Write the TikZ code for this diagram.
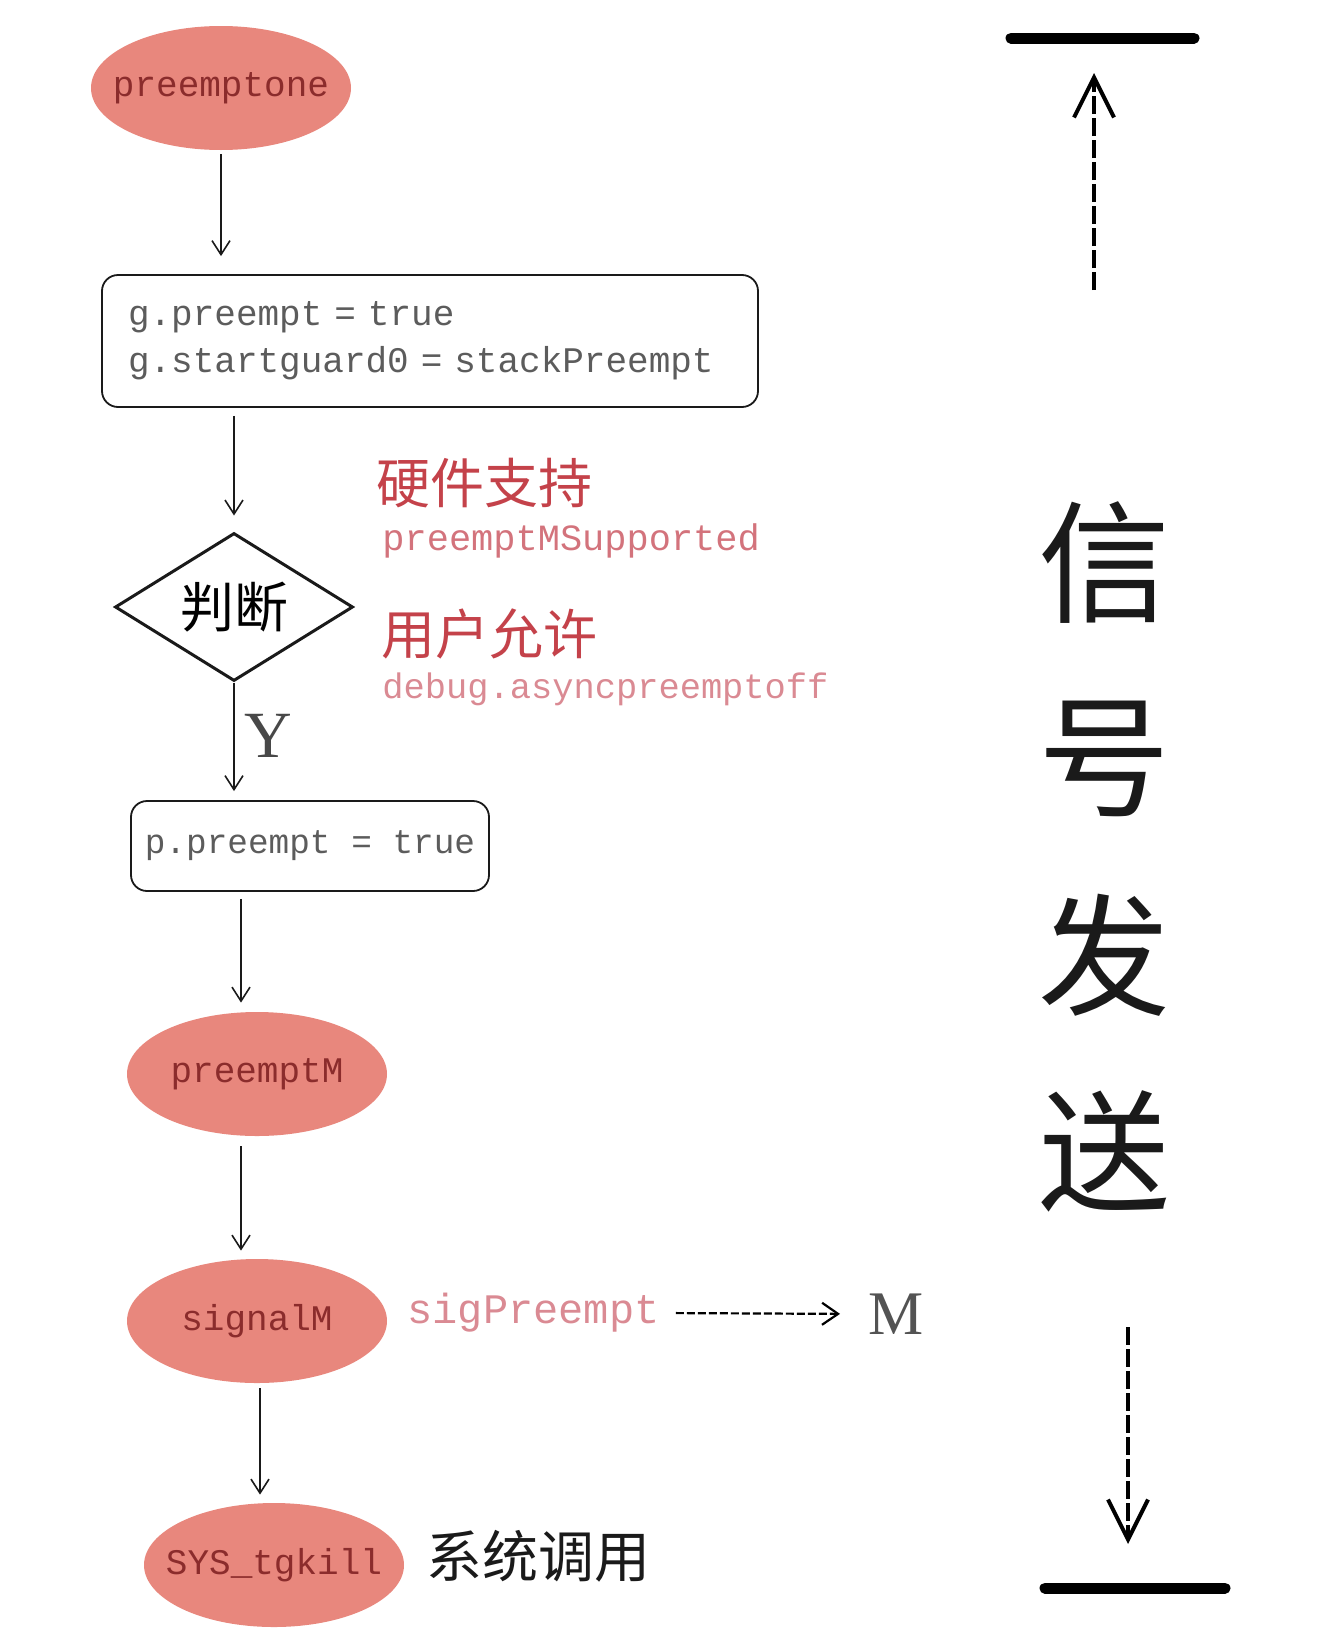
\documentclass[tikz,border=0pt]{standalone}
\usepackage{fontspec}
\setmainfont{Liberation Serif}
\setmonofont{Liberation Mono}
\newfontfamily\cjk{Noto Sans CJK SC}
\usetikzlibrary{shapes.geometric,arrows.meta}
\definecolor{SGSalmon} {HTML}{E8877D}
\definecolor{SGDarkRed}{HTML}{8B2C2C}
\definecolor{SGRed}    {HTML}{C4424A}
\definecolor{SGPink}   {HTML}{D3737C}
\definecolor{SGRose}   {HTML}{DA8A93}
\definecolor{SGGray}   {HTML}{5C5C5C}
\definecolor{SGInk}    {HTML}{1A1A1A}

\tikzset{
  funcnode/.style={ellipse,fill=SGSalmon,minimum width=130pt,minimum height=62pt,
    inner xsep=-20pt,inner ysep=0pt,text=SGDarkRed,font=\ttfamily\fontsize{18}{20}\selectfont},
  stmtbox/.style={draw=SGInk,line width=0.9pt,rounded corners=8pt,text=SGGray},
  decide/.style={diamond,draw=SGInk,line width=1.5pt,aspect=1.6,minimum width=119pt,
    minimum height=74pt,inner sep=0pt,font=\cjk\fontsize{27}{30}\selectfont},
  flow/.style={draw=SGInk,line width=0.8pt,-{Straight Barb[length=7pt,width=9pt]}},
  note/.style={anchor=west,inner sep=0pt},
  bar/.style={line width=5.5pt,line cap=round},
  sendarrow/.style={line width=2pt,dash pattern=on 9pt off 2pt,
    -{Straight Barb[length=20pt,width=20pt,line width=2pt]}},
}

\begin{document}
\begin{tikzpicture}[x=0.5pt,y=-0.5pt]
    \useasboundingbox (0,0) rectangle (1338,1638);

    % flow nodes
    \node[funcnode] (pone) at (221,88) {preemptone};
    \node[stmtbox,minimum width=328pt,minimum height=66pt,text width=302pt,align=left,
      font=\ttfamily\fontsize{18}{23.5}\selectfont] (gset) at (430,341)
      {g.preempt = true\\g.startguard0 = stackPreempt};
    \node[decide] (judge) at (234,607) {判断};
    \node[stmtbox,minimum width=179pt,minimum height=45pt,
      font=\ttfamily\fontsize{17.2}{20}\selectfont] (pset) at (310,846) {p.preempt = true};
    \node[funcnode] (pm) at (257,1074) {preemptM};
    \node[funcnode] (sigm) at (257,1321) {signalM};
    \node[funcnode] (tgk) at (274,1565) {SYS\_tgkill};

    % arrows
    \draw[flow,shorten >=9pt,shorten <=2pt] (pone.south) -- (pone.south |- gset.north);
    \draw[flow,shorten >=8pt,shorten <=4pt] (judge.north |- gset.south) -- (judge.north);
    \draw[flow,shorten >=4.5pt] (judge.south) -- (judge.south |- pset.north);
    \draw[flow,shorten >=4.5pt,shorten <=3.5pt] ([xshift=-8pt]pm.north |- pset.south) -- ([xshift=-8pt]pm.north);
    \draw[flow,shorten >=4pt,shorten <=5pt] ([xshift=-8pt]sigm.north |- pm.south) -- ([xshift=-8pt]sigm.north);
    \draw[flow,shorten >=4pt,shorten <=2.5pt] ([xshift=-7pt]tgk.north |- sigm.south) -- ([xshift=-7pt]tgk.north);

    % labels
    \node[note,font=\fontsize{33}{33}\selectfont,text=SGInk!80] (yes) at (244,736) {Y};
    \node[note,font=\cjk\fontsize{27}{30}\selectfont,text=SGRed] (hw) at (376,483) {硬件支持};
    \node[note,font=\ttfamily\fontsize{18.5}{20}\selectfont,text=SGPink] (hwname) at (382,541) {preemptMSupported};
    \node[note,font=\cjk\fontsize{27}{30}\selectfont,text=SGRed] (user) at (381,634) {用户允许};
    \node[note,font=\ttfamily\fontsize{17.7}{20}\selectfont,text=SGRose] (username) at (382,689) {debug.asyncpreemptoff};
    \node[note,font=\ttfamily\fontsize{21}{24}\selectfont,text=SGRose] (sigp) at (407,1313) {sigPreempt};
    \node[note,font=\fontsize{31}{31}\selectfont,text=SGInk!75] (mach) at (868,1314) {M};
    \node[note,font=\cjk\fontsize{28}{30}\selectfont,text=SGInk] (sys) at (426,1556) {系统调用};

    \draw[line width=1.1pt,dash pattern=on 4pt off 1.5pt,-{Straight Barb[length=8pt,width=11pt]},
      shorten <=8pt,shorten >=14pt] (sigp.east) -- (mach.west);

    % signal sending
    \coordinate (topL) at (1011,38);
    \coordinate (topR) at (1194,38);
    \coordinate (upS) at (1094,290);
    \coordinate (upE) at (1094,73);
    \coordinate (downS) at (1128,1327);
    \coordinate (downE) at (1128,1544);
    \coordinate (botL) at (1045,1588);
    \coordinate (botR) at (1225,1588);
    \draw[bar] (topL) -- (topR);
    \draw[sendarrow] (upS) -- (upE);
    \draw[sendarrow] (downS) -- (downE);
    \draw[bar] (botL) -- (botR);
    \foreach \ch [count=\i] in {信,号,发,送}
      \node[font=\cjk\fontsize{66}{66}\selectfont,text=SGInk] (send\i) at (1104,{563+196*(\i-1)}) {\ch};
  \end{tikzpicture}
\end{document}
